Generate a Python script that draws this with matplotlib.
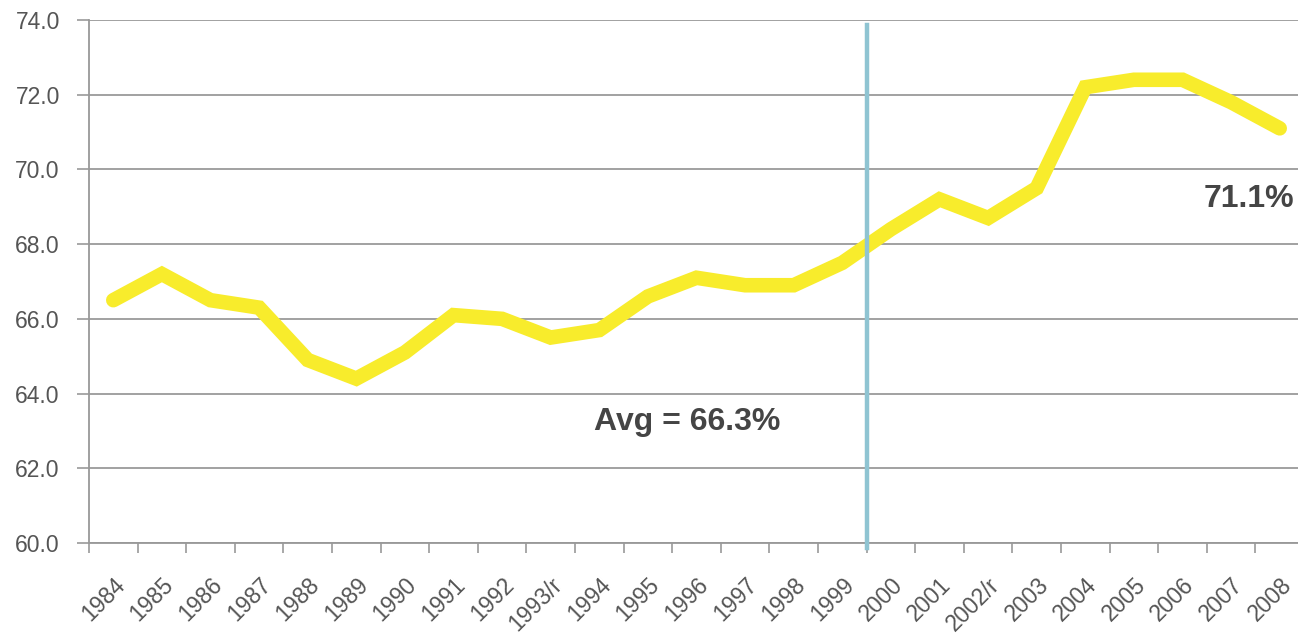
import matplotlib
matplotlib.use("Agg")
import matplotlib.pyplot as plt
import numpy as np

years = ["1984", "1985", "1986", "1987", "1988", "1989", "1990", "1991", "1992",
         "1993/r", "1994", "1995", "1996", "1997", "1998", "1999", "2000", "2001",
         "2002/r", "2003", "2004", "2005", "2006", "2007", "2008"]
values = [66.5, 67.2, 66.5, 66.3, 64.9, 64.4, 65.1, 66.1, 66.0,
          65.5, 65.7, 66.6, 67.1, 66.9, 66.9, 67.5, 68.4, 69.2,
          68.7, 69.5, 72.2, 72.4, 72.4, 71.8, 71.1]
y_ticks = [60.0, 62.0, 64.0, 66.0, 68.0, 70.0, 72.0, 74.0]
avg_label = "Avg = 66.3%"
last_label = "71.1%"
divider_after = "1999"

plt.rcParams['font.family'] = ['Liberation Sans', 'DejaVu Sans']

W, H = 1298, 635
fig = plt.figure(figsize=(W / 100, H / 100), dpi=100)
ax_left, ax_right, ax_top, ax_bottom = 89, 1304, 20, 543
ax = fig.add_axes([ax_left / W, 1 - ax_bottom / H,
                   (ax_right - ax_left) / W, (ax_bottom - ax_top) / H])

x = np.arange(len(years))
ax.plot(x, values, color='#F8EC2C', lw=10.5, solid_joinstyle='miter',
        solid_capstyle='round', zorder=3)

ax.set_xlim(-0.5, len(years) - 0.5)
ax.set_ylim(y_ticks[0], y_ticks[-1])
ax.set_yticks(y_ticks)
ax.set_yticklabels([f"{v:.1f}" for v in y_ticks], fontsize=16.5, color='#555555')
ax.yaxis.grid(True, color='#9a9a9a', lw=1.3, zorder=1)
ax.set_axisbelow(True)

# tick marks at category boundaries, labels at centres
ax.set_xticks(np.arange(len(years) + 1) - 0.5)
ax.set_xticklabels([])
ax.set_xticks(x, minor=True)
ax.set_xticklabels(years, minor=True, rotation=45, ha='right',
                   rotation_mode='anchor', fontsize=16.5, color='#555555')
ax.tick_params(axis='x', which='major', length=7, width=1.2, color='#999999',
               direction='out')
ax.tick_params(axis='x', which='minor', length=0, pad=22)
ax.tick_params(axis='y', length=9, width=1.2, color='#999999', pad=12)

for s in ['top', 'right']:
    ax.spines[s].set_visible(False)
ax.spines['left'].set_color('#999999')
ax.spines['left'].set_linewidth(1.3)
ax.spines['bottom'].set_color('#999999')
ax.spines['bottom'].set_linewidth(1.3)

# divider line between 1999 and 2000
div_x = years.index(divider_after) + 0.5
ax.axvline(div_x, ymin=-0.01, ymax=0.99, color='#8FC4D2', lw=3.2,
           zorder=4, clip_on=False)

ax.text(11.8, 63.25, avg_label, ha='center', va='center', fontsize=23,
        fontweight='bold', color='#454545')
ax.text(24.3, 69.2, last_label, ha='right', va='center', fontsize=23,
        fontweight='bold', color='#454545')

fig.savefig("out.png", dpi=100, facecolor='white')
